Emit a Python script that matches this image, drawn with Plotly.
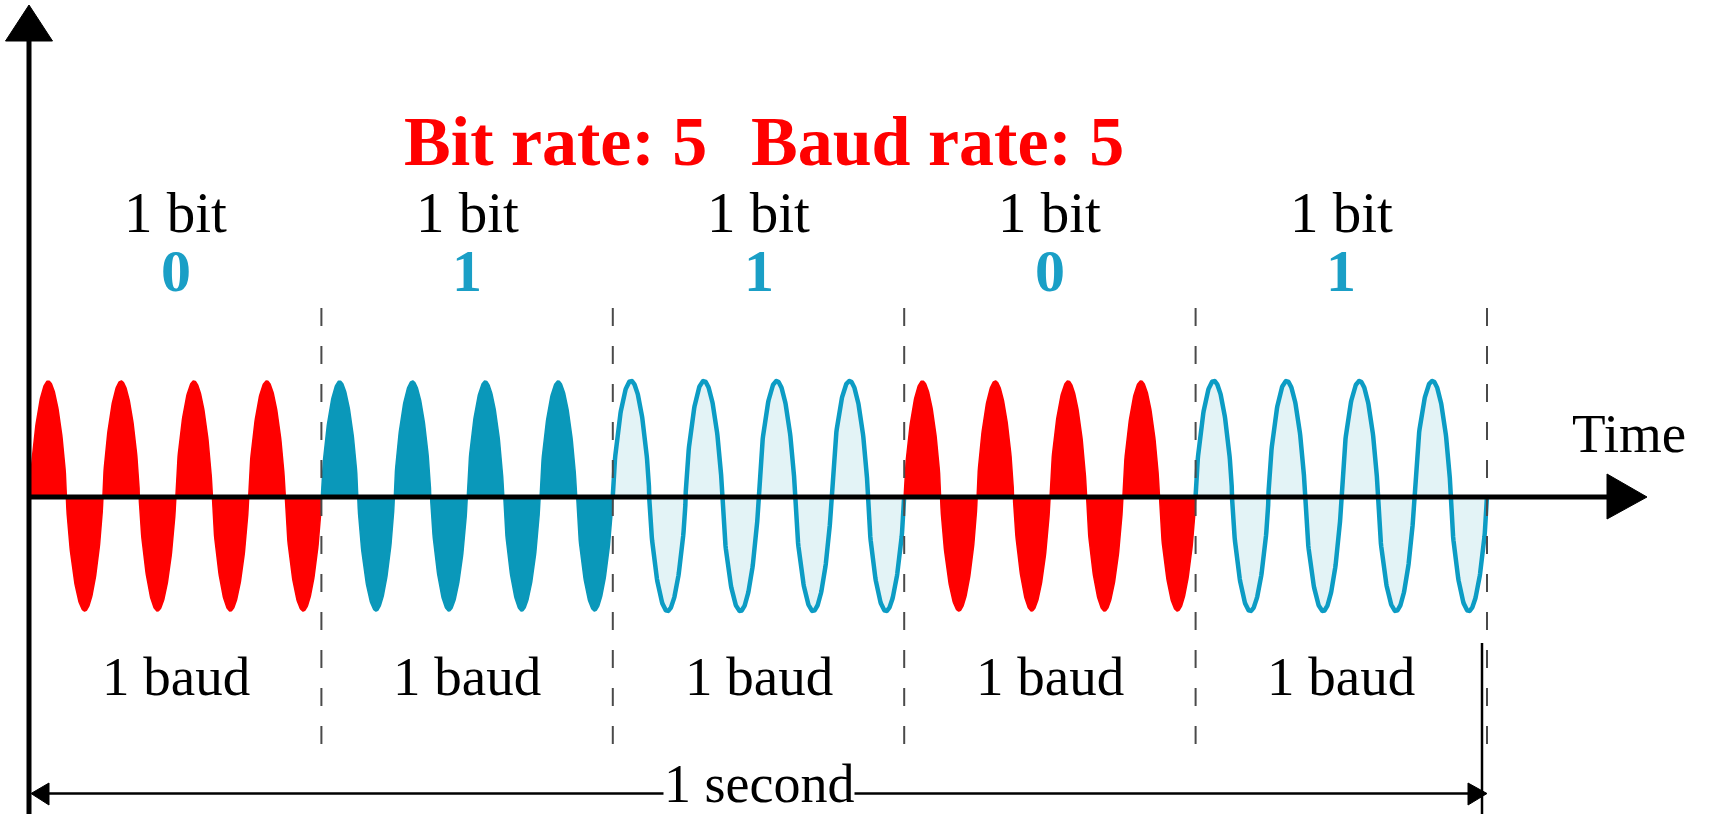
import numpy as np
import plotly.graph_objects as go

# ---------------- data ----------------
bits = ["0", "1", "1", "0", "1"]
bit_labels = ["1 bit"] * 5
baud_labels = ["1 baud"] * 5
baud_styles = ["red", "teal", "outline", "red", "outline"]
cycles_per_baud = 4
baud_duration = 0.2          # seconds
title_left = "Bit rate: 5"
title_right = "Baud rate: 5"
axis_label = "Time"
span_label = "1 second"

# ---------------- geometry (pixel mapping of the axes) ----------------
W, H = 1710, 814
PX_T0, PX_T1 = 30.0, 1487.0     # pixel x for t=0 and t=1
PY_Y0, AMP_PX = 496.0, 115.0     # pixel y for amplitude 0, pixels per unit amplitude
LOBE_SHAPE = 0.68                # drawing style: rounder carrier lobes, as in the figure


def tx(px):
    return (px - PX_T0) / (PX_T1 - PX_T0)


def ty(py):
    return (PY_Y0 - py) / AMP_PX


STYLE = {
    "red": dict(line=dict(color="#FF0000", width=1.5), fillcolor="#FF0000"),
    "teal": dict(line=dict(color="#0A98BA", width=1.5), fillcolor="#0A98BA"),
    "outline": dict(line=dict(color="#0C9CC4", width=4.5), fillcolor="#E3F3F6"),
}

fig = go.Figure()

n = len(bits)
for i in range(n):
    t0 = i * baud_duration
    t = np.linspace(t0, t0 + baud_duration, 800)
    s = np.sin(2 * np.pi * cycles_per_baud * (t - t0) / baud_duration)
    y = np.sign(s) * np.abs(s) ** LOBE_SHAPE
    st = STYLE[baud_styles[i]]
    fig.add_trace(go.Scatter(
        x=t, y=y, mode="lines", fill="tozeroy",
        line=st["line"], fillcolor=st["fillcolor"],
        hoverinfo="skip", showlegend=False,
    ))

shapes = []
# dashed baud boundaries
for i in range(1, n + 1):
    tb = i * baud_duration
    shapes.append(dict(type="line", x0=tb, x1=tb, y0=ty(308), y1=ty(747),
                       line=dict(color="#4A4A4A", width=2, dash="18px,20px"),
                       layer="above"))
# vertical axis + arrowhead
shapes.append(dict(type="line", x0=tx(29), x1=tx(29), y0=ty(38), y1=ty(820),
                   line=dict(color="black", width=5), layer="above"))
shapes.append(dict(type="path",
                   path=f"M {tx(5.5)},{ty(41)} L {tx(29)},{ty(5)} L {tx(52.5)},{ty(41)} Z",
                   fillcolor="black", line=dict(color="black", width=1), layer="above"))
# time axis + arrowhead
shapes.append(dict(type="line", x0=tx(27), x1=tx(1612), y0=ty(497), y1=ty(497),
                   line=dict(color="black", width=5), layer="above"))
shapes.append(dict(type="path",
                   path=f"M {tx(1607)},{ty(474)} L {tx(1647)},{ty(497)} L {tx(1607)},{ty(519)} Z",
                   fillcolor="black", line=dict(color="black", width=1), layer="above"))
# "1 second" span arrow
shapes.append(dict(type="line", x0=tx(45), x1=tx(1472), y0=ty(793.5), y1=ty(793.5),
                   line=dict(color="black", width=2.5), layer="above"))
shapes.append(dict(type="path",
                   path=f"M {tx(31)},{ty(793.5)} L {tx(49)},{ty(783)} L {tx(49)},{ty(805)} Z",
                   fillcolor="black", line=dict(color="black", width=1), layer="above"))
shapes.append(dict(type="path",
                   path=f"M {tx(1487)},{ty(793.5)} L {tx(1468)},{ty(783)} L {tx(1468)},{ty(805)} Z",
                   fillcolor="black", line=dict(color="black", width=1), layer="above"))
# end-of-second marker
shapes.append(dict(type="line", x0=tx(1482), x1=tx(1482), y0=ty(643), y1=ty(820),
                   line=dict(color="black", width=2.5), layer="above"))

SERIF = "Liberation Serif, Times New Roman, serif"
annotations = []


def center_for_baseline(baseline_px, fs):
    return ty(baseline_px - 0.3375 * fs)


for i in range(n):
    tc = (i + 0.5) * baud_duration
    annotations.append(dict(x=tc, y=center_for_baseline(232, 57), text=bit_labels[i],
                            showarrow=False, xanchor="center", yanchor="middle",
                            font=dict(family=SERIF, size=57, color="black")))
    annotations.append(dict(x=tc, y=center_for_baseline(291, 60), text=f"<b>{bits[i]}</b>",
                            showarrow=False, xanchor="center", yanchor="middle",
                            font=dict(family=SERIF, size=60, color="#1A9FC6")))
    annotations.append(dict(x=tc, y=center_for_baseline(695, 55), text=baud_labels[i],
                            showarrow=False, xanchor="center", yanchor="middle",
                            font=dict(family=SERIF, size=55, color="black")))

annotations.append(dict(x=tx(402), y=center_for_baseline(165, 70), text=f"<b>{title_left}</b>",
                        showarrow=False, xanchor="left", yanchor="middle",
                        font=dict(family=SERIF, size=70, color="#FF0000")))
annotations.append(dict(x=tx(1126), y=center_for_baseline(165, 70), text=f"<b>{title_right}</b>",
                        showarrow=False, xanchor="right", yanchor="middle",
                        font=dict(family=SERIF, size=70, color="#FF0000")))
annotations.append(dict(x=tx(1629), y=center_for_baseline(452, 55), text=axis_label,
                        showarrow=False, xanchor="center", yanchor="middle",
                        font=dict(family=SERIF, size=55, color="black")))
annotations.append(dict(x=0.5, y=center_for_baseline(802, 54), text=span_label,
                        showarrow=False, xanchor="center", yanchor="middle",
                        bgcolor="white", borderpad=0,
                        font=dict(family=SERIF, size=54, color="black")))

fig.update_layout(
    width=W, height=H,
    margin=dict(l=0, r=0, t=0, b=0),
    paper_bgcolor="white", plot_bgcolor="white",
    showlegend=False,
    xaxis=dict(range=[tx(0), tx(W)], visible=False, fixedrange=True),
    yaxis=dict(range=[ty(H), ty(0)], visible=False, fixedrange=True),
    shapes=shapes, annotations=annotations,
)

fig.write_html("out.html", config={"displayModeBar": False},
               post_script="document.body.style.margin='0';document.body.style.overflow='hidden';")
